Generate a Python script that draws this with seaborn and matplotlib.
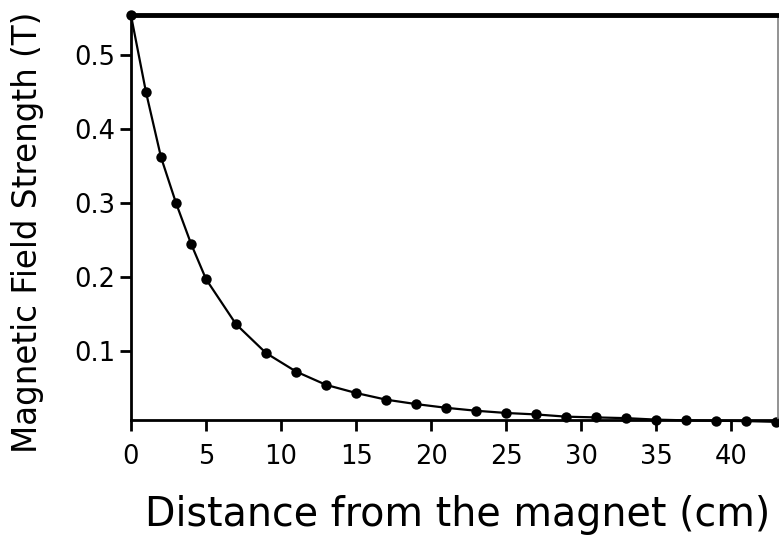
import matplotlib
matplotlib.use("Agg")
import matplotlib.pyplot as plt
import seaborn as sns
import pandas as pd

distance_cm = [0, 1, 2, 3, 4, 5, 7, 9, 11, 13, 15, 17, 19, 21, 23, 25, 27,
               29, 31, 33, 35, 37, 39, 41, 43]
field_T = [0.554, 0.450, 0.362, 0.300, 0.245, 0.197, 0.136, 0.097, 0.072,
           0.054, 0.043, 0.034, 0.028, 0.023, 0.019, 0.016, 0.014, 0.011,
           0.010, 0.009, 0.007, 0.006, 0.0055, 0.005, 0.004]
x_ticks = [0, 5, 10, 15, 20, 25, 30, 35, 40]
y_ticks = [0.1, 0.2, 0.3, 0.4, 0.5]

sns.set_theme(style="ticks")
plt.rcParams["font.family"] = ["DejaVu Sans"]
plt.rcParams["text.color"] = "black"
plt.rcParams["axes.labelcolor"] = "black"

df = pd.DataFrame({"x": distance_cm, "y": field_T})

fig = plt.figure(figsize=(7.79, 5.37), dpi=100)
ax = fig.add_axes([131 / 779, (537 - 420) / 537, (778 - 131) / 779, (420 - 15) / 537])

sns.lineplot(data=df, x="x", y="y", ax=ax, color="black", linewidth=1.6,
             marker="o", markersize=7.5, markeredgewidth=0, clip_on=False)

ax.set_xlim(0, 43.1)
ax.set_ylim(0.0065, 0.5545)
ax.set_xticks(x_ticks)
ax.set_xticklabels([str(t) for t in x_ticks])
ax.set_yticks(y_ticks)
ax.set_yticklabels([f"{t:.1f}" for t in y_ticks])

ax.tick_params(axis="both", direction="out", length=8, width=2, colors="black",
               labelcolor="black", labelsize=18.5)
ax.tick_params(axis="y", pad=3)
ax.tick_params(axis="x", pad=9)
for side in ["left", "bottom"]:
    ax.spines[side].set_linewidth(2)
    ax.spines[side].set_color("black")
ax.spines["top"].set_visible(True)
ax.spines["top"].set_linewidth(3.5)
ax.spines["top"].set_color("black")
ax.spines["right"].set_visible(True)
ax.spines["right"].set_linewidth(1.2)
ax.spines["right"].set_color("#808080")

ax.set_xlabel("Distance from the magnet (cm)", fontsize=28.5, color="black")
ax.xaxis.set_label_coords((458 - 131) / 647, -(515 - 420) / 405)
ax.xaxis.label.set_verticalalignment("center")
ax.set_ylabel("Magnetic Field Strength (T)", fontsize=23.5, color="black")
ax.yaxis.set_label_coords(-(131 - 28) / 647, (420 - 232) / 405)
ax.yaxis.label.set_verticalalignment("center")

fig.savefig("out.png", dpi=100)
